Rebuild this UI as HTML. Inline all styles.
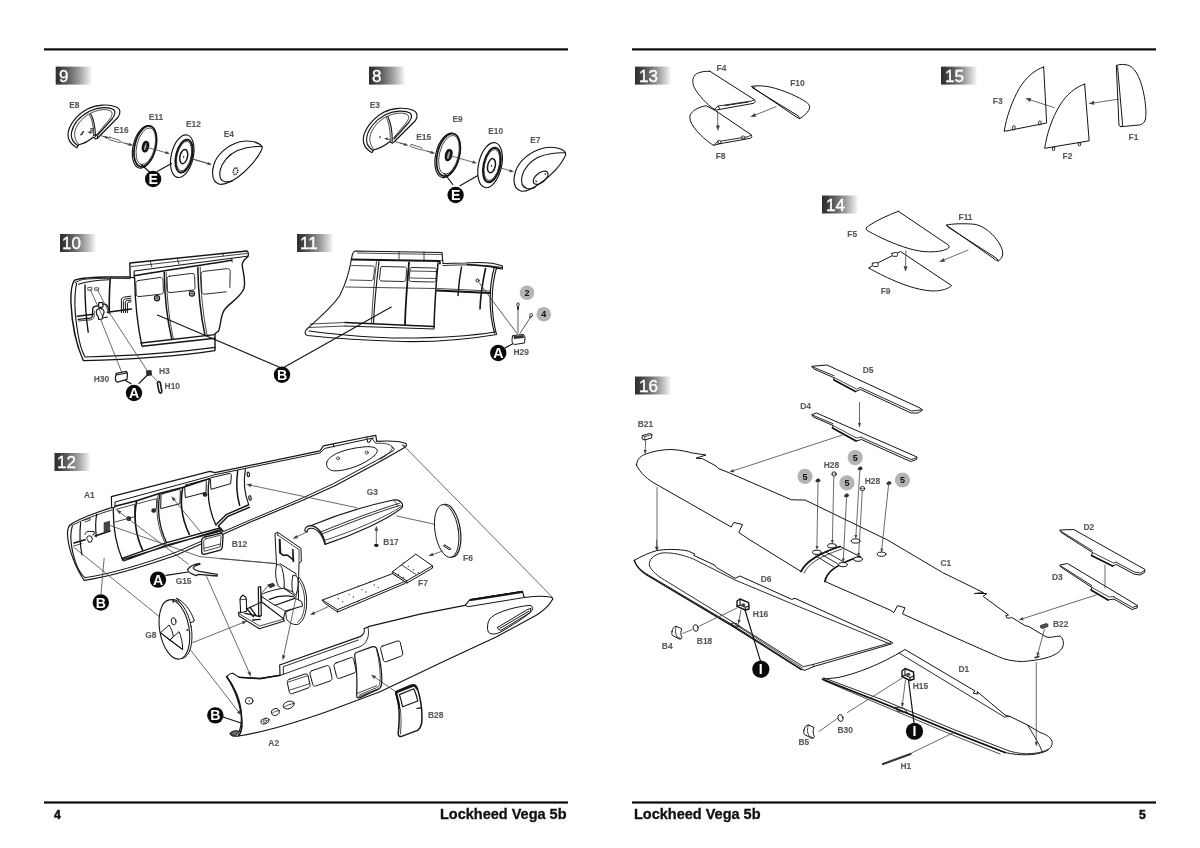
<!DOCTYPE html>
<html lang="en">
<head>
<meta charset="utf-8">
<title>Lockheed Vega 5b - assembly steps 8-16</title>
<style>
html,body{margin:0;padding:0;background:#fff;}
body{width:1200px;height:848px;overflow:hidden;position:relative;font-family:"Liberation Sans",sans-serif;}
svg{position:absolute;left:0;top:0;display:block;filter:grayscale(1);}
.ln{fill:none;stroke:#141414;stroke-width:1.15;stroke-linejoin:round;stroke-linecap:round;}
.tn{fill:none;stroke:#1c1c1c;stroke-width:0.8;stroke-linejoin:round;stroke-linecap:round;}
.wf{fill:#fff;stroke:#141414;stroke-width:1.15;stroke-linejoin:round;stroke-linecap:round;}
.ar{fill:none;stroke:#444;stroke-width:0.8;stroke-linecap:round;}
.ah{fill:#444;stroke:none;}
.lb{font-family:"Liberation Sans",sans-serif;font-weight:bold;fill:#5a5a5a;}
.st{font-family:"Liberation Sans",sans-serif;font-size:17px;fill:#fff;stroke:#fff;stroke-width:0.35;}
.ft{font-family:"Liberation Sans",sans-serif;font-weight:bold;font-size:14.5px;fill:#111;stroke:#111;stroke-width:0.3px;}
.pn{font-family:"Liberation Sans",sans-serif;font-weight:bold;font-size:12.2px;fill:#111;stroke:#111;stroke-width:0.5px;}
path,ellipse,circle,line,polyline,polygon,rect{vector-effect:non-scaling-stroke;}
.lb{font-size:8.4px;stroke:#5a5a5a;stroke-width:0.12px;}
.s8 .lb{font-size:67px;stroke-width:1px;}
.s5 .lb{font-size:42px;stroke-width:0.6px;}
.s4 .lb{font-size:33.6px;stroke-width:0.5px;}
.s6 .lb{font-size:50.4px;stroke-width:0.75px;}
.bl{font-family:"Liberation Sans",sans-serif;font-weight:bold;font-size:13px;fill:#fff;text-anchor:middle;}
.gl{font-family:"Liberation Sans",sans-serif;font-weight:bold;font-size:7px;fill:#111;text-anchor:middle;}
</style>
</head>
<body>
<svg width="1200" height="848" viewBox="0 0 1200 848">
<defs>
<linearGradient id="bg" x1="0" x2="1" y1="0" y2="0">
<stop offset="0" stop-color="#2e2e2e"/>
<stop offset="0.12" stop-color="#3a3a3a"/>
<stop offset="0.38" stop-color="#666666"/>
<stop offset="0.65" stop-color="#a0a0a0"/>
<stop offset="0.88" stop-color="#dcdcdc"/>
<stop offset="1" stop-color="#ffffff"/>
</linearGradient>
</defs>
<g id="frame">
<rect x="44" y="48.3" width="524" height="2.2" fill="#0a0a0a"/>
<rect x="632" y="48.3" width="524" height="2.2" fill="#0a0a0a"/>
<rect x="44" y="801.4" width="524" height="2.2" fill="#0a0a0a"/>
<rect x="632" y="801.4" width="524" height="2.2" fill="#0a0a0a"/>
<text class="pn" x="54" y="818.8">4</text>
<text class="ft" x="566.5" y="818.8" text-anchor="end" textLength="126.5" lengthAdjust="spacingAndGlyphs">Lockheed Vega 5b</text>
<text class="ft" x="634" y="818.8" textLength="126.5" lengthAdjust="spacingAndGlyphs">Lockheed Vega 5b</text>
<text class="pn" x="1139" y="818.8">5</text>
</g>
<g id="badges">
<rect x="55.7" y="66.6" width="36.5" height="18" fill="url(#bg)"/><text class="st" x="59" y="81.6">9</text>
<rect x="369" y="66.6" width="36.5" height="18" fill="url(#bg)"/><text class="st" x="372" y="81.6">8</text>
<rect x="60" y="234" width="36.5" height="18" fill="url(#bg)"/><text class="st" x="62" y="249">10</text>
<rect x="297" y="234" width="36.5" height="18" fill="url(#bg)"/><text class="st" x="300" y="249">11</text>
<rect x="54.5" y="453" width="36.5" height="18" fill="url(#bg)"/><text class="st" x="57" y="468">12</text>
<rect x="635" y="66.6" width="36.5" height="18" fill="url(#bg)"/><text class="st" x="639" y="81.6">13</text>
<rect x="941" y="66.6" width="36.5" height="18" fill="url(#bg)"/><text class="st" x="945" y="81.6">15</text>
<rect x="822" y="195.5" width="36.5" height="18" fill="url(#bg)"/><text class="st" x="826" y="210.5">14</text>
<rect x="635" y="376.5" width="36.5" height="18" fill="url(#bg)"/><text class="st" x="639" y="391.5">16</text>
</g>
<g id="step8a" class="s8" transform="translate(355,95) scale(0.125)">
<!-- E3 half cowl -->
<path class="wf" d="M135,462 C98,440 62,400 66,348 C74,280 132,196 226,140 C300,102 400,96 464,122 C502,138 504,170 484,204 L312,376 L298,386 L280,372 C250,396 200,428 152,438 Z"/>
<path class="ln" d="M144,444 C108,420 86,380 94,338 C106,270 164,200 246,156 C316,124 400,120 440,144 C460,160 452,190 430,220 L312,352"/>
<path class="tn" d="M152,436 C120,400 112,358 124,316 C142,258 194,200 258,170 C326,140 390,138 420,158 C436,174 428,198 410,222 L304,348"/>
<path class="ln" d="M262,172 C284,214 298,290 298,370"/>
<path class="tn" d="M250,178 C272,220 284,292 282,364"/>
<ellipse cx="200" cy="336" rx="5" ry="11" transform="rotate(20 200 336)" fill="#333"/>
<line class="ar" x1="300" y1="364" x2="253.5" y2="350.3"/><polygon class="ah" points="232,344 266.1,341.5 259.3,364.5"/>
<!-- E15 rod -->
<path class="ar" d="M322,372 L400,396 M536,438 L620,462"/>
<line class="ar" x1="360" y1="384" x2="403.8" y2="396.9"/><polygon class="ah" points="428,404 389.9,406.1 397.1,381.6"/>
<line class="ar" x1="580" y1="450" x2="617.8" y2="461"/><polygon class="ah" points="642,468 603.9,470.3 611,445.7"/>
<path class="wf" d="M452,396 L530,420 C538,424 534,440 524,438 L446,414 C438,410 442,394 452,396 Z" style="stroke:#444;stroke-width:0.8"/>
<!-- E9 -->
<g transform="rotate(14 745 480)">
<ellipse class="wf" cx="741" cy="484" rx="94" ry="182"/>
<ellipse class="ln" cx="747" cy="478" rx="88" ry="174" style="stroke-width:1.7"/>
<ellipse class="tn" cx="751" cy="476" rx="76" ry="158"/>
<ellipse class="ln" cx="749" cy="480" rx="20" ry="40" style="stroke-width:2.6"/>
<ellipse class="tn" cx="751" cy="478" rx="8" ry="18"/>
</g>
<line class="ar" x1="770" y1="488" x2="951.7" y2="539.2"/><polygon class="ah" points="976,546 937.9,548.6 944.8,523.9"/>
<path class="ln" d="M716,628 L782,716 M840,726 L1000,634" style="stroke-width:1.2"/>
<circle cx="805" cy="800" r="65.6" fill="#0a0a0a"/><text class="bl" x="805" y="840.8" style="font-size:113.6px">E</text>
<text class="lb" x="118" y="102.6">E3</text>
<text class="lb" x="490" y="363.6">E15</text>
<text class="lb" x="780" y="213.6">E9</text>
</g>
<g id="step8b" class="s8" transform="translate(440,95) scale(0.125)">
<!-- E10 -->
<g transform="rotate(13 405 560)">
<ellipse class="wf" cx="401" cy="562" rx="92" ry="184"/>
<ellipse class="ln" cx="415" cy="558" rx="66" ry="140" style="stroke-width:2"/>
<ellipse class="tn" cx="415" cy="558" rx="58" ry="126"/>
<ellipse class="ln" cx="413" cy="564" rx="30" ry="58" style="stroke-width:1.5"/>
<ellipse cx="413" cy="566" rx="5" ry="9" fill="#222"/>
</g>
<line class="ar" x1="490" y1="584" x2="568" y2="608.5"/><polygon class="ah" points="592,616 553.8,617.4 561.5,593"/>
<!-- E7 -->
<path class="wf" d="M604,612 C630,530 720,450 830,424 C910,408 980,428 1002,458 C1008,470 1004,488 996,500 C960,570 880,650 800,708 C740,750 690,772 652,770 C612,760 590,724 592,670 C594,650 598,630 604,612 Z"/>
<path class="ln" d="M1002,462 C940,460 870,466 800,492 C726,522 670,590 656,650 C646,700 660,738 696,748 C716,752 740,748 760,740"/>
<g transform="rotate(-38 805 662)"><ellipse class="ln" cx="805" cy="662" rx="70" ry="38"/>
<ellipse cx="760" cy="662" rx="6" ry="8" fill="#333"/><ellipse cx="852" cy="662" rx="6" ry="8" fill="#333"/></g>
<text class="lb" x="386" y="313.6">E10</text>
<text class="lb" x="722" y="381.6">E7</text>
</g>
<g id="step9a" class="s8" transform="translate(60,95) scale(0.125)">
<!-- E8 half cowl -->
<path class="wf" d="M135,422 C95,400 60,360 64,308 C72,240 130,160 220,112 C290,76 390,70 450,96 C486,112 486,142 466,176 L300,346 L286,352 L266,336 C240,360 190,390 150,398 Z"/>
<path class="ln" d="M142,404 C105,380 84,340 92,300 C104,236 160,170 240,128 C310,96 390,92 428,116 C446,132 440,160 418,190 L300,322"/>
<path class="tn" d="M150,396 C118,360 110,320 122,280 C140,226 190,170 252,142 C320,112 380,110 408,130 C424,146 416,168 398,192 L292,318"/>
<path class="ln" d="M246,152 C268,190 282,260 284,332"/>
<path class="tn" d="M236,158 C258,196 270,262 270,326"/>
<path class="ln" d="M266,322 L290,318 L300,332 L300,346"/>
<path class="ln" d="M166,318 l14,-8 M178,300 l10,-6" style="stroke-width:1.4"/>
<rect class="tn" x="250" y="268" width="14" height="20"/>
<line class="ar" x1="262" y1="302" x2="240.2" y2="299"/><polygon class="ah" points="218,296 251.3,288.4 248.1,312.2"/>
<!-- E16 rod -->
<path class="ar" d="M330,326 L392,346 M478,374 L560,398"/>
<line class="ar" x1="392" y1="346" x2="367.3" y2="337.9"/><polygon class="ah" points="346,331 380.1,329.5 372.7,352.3"/>
<line class="ar" x1="520" y1="386" x2="561.7" y2="397.4"/><polygon class="ah" points="586,404 547.9,406.9 554.6,382.2"/>
<path class="wf" d="M398,338 L476,362 C484,366 480,382 470,380 L392,356 C384,352 388,336 398,338 Z" style="stroke:#444;stroke-width:0.8"/>
<!-- E11 -->
<g transform="rotate(14 680 412)">
<ellipse class="wf" cx="676" cy="416" rx="90" ry="174"/>
<ellipse class="ln" cx="682" cy="410" rx="84" ry="166" style="stroke-width:1.7"/>
<ellipse class="tn" cx="686" cy="408" rx="72" ry="150"/>
<ellipse class="ln" cx="684" cy="412" rx="19" ry="38" style="stroke-width:2.6"/>
<ellipse class="tn" cx="686" cy="410" rx="8" ry="18"/>
</g>
<line class="ar" x1="700" y1="420" x2="855.7" y2="463.3"/><polygon class="ah" points="880,470 841.9,472.7 848.7,448"/>
<!-- E12 -->
<g transform="rotate(13 980 490)">
<ellipse class="wf" cx="978" cy="490" rx="88" ry="174"/>
<ellipse class="ln" cx="992" cy="486" rx="64" ry="134" style="stroke-width:2"/>
<ellipse class="tn" cx="992" cy="486" rx="56" ry="120"/>
<ellipse class="ln" cx="990" cy="490" rx="30" ry="58" style="stroke-width:1.5"/>
<ellipse cx="990" cy="492" rx="5" ry="9" fill="#222"/>
</g>
<path class="ar" d="M1060,512 L1200,552"/>
<!-- E ball -->
<path class="ln" d="M650,556 L716,616 M780,610 L892,548" style="stroke-width:1.2"/>
<circle cx="745" cy="672" r="65.6" fill="#0a0a0a"/><text class="bl" x="745" y="712.8" style="font-size:113.6px">E</text>
<text class="lb" x="73" y="102.6">E8</text>
<text class="lb" x="430" y="301.6">E16</text>
<text class="lb" x="710" y="197.6">E11</text>
<text class="lb" x="1008" y="253.6">E12</text>
</g>
<g id="step9b" class="s8" transform="translate(160,95) scale(0.125)">
<line class="ar" x1="265" y1="514" x2="391.8" y2="551"/><polygon class="ah" points="416,558 377.9,560.2 385,535.6"/>
<path class="wf" d="M430,560 C450,480 540,400 640,374 C720,356 790,380 814,408 C820,420 816,436 808,448 C780,510 700,600 620,660 C560,700 510,718 476,714 C440,704 420,670 420,620 C420,600 424,580 430,560 Z"/>
<path class="ln" d="M814,412 C760,410 690,416 620,444 C550,474 496,540 482,600 C472,650 486,686 520,694 C540,698 560,694 580,686"/>
<ellipse cx="604" cy="610" rx="17" ry="28" transform="rotate(14 604 610)" fill="none" stroke="#222" stroke-width="1.6" stroke-dasharray="1.3 0.9"/>
<text class="lb" x="510" y="337.6">E4</text>
</g>
<g id="step10" class="s5" transform="translate(55,235) scale(0.2)">
<!-- fuselage body -->
<path class="wf" d="M96,228 C110,218 180,212 250,210 L376,210 L374,140 L960,80 C968,86 968,100 964,108 C950,120 936,130 936,150 C940,190 956,230 944,270 C920,320 870,340 846,376 C826,410 830,450 818,480 L800,494 L800,578 C640,602 400,622 142,628 C110,560 84,450 80,340 C78,290 82,250 96,228 Z" style="stroke-width:1.4"/>
<path class="ln" d="M108,242 C96,300 98,400 116,500 C124,550 136,584 150,610 C400,604 640,584 800,562"/>
<path class="ln" d="M100,238 L132,224 C180,216 250,216 376,218" style="stroke-width:0.9"/>
<path class="ln" d="M118,246 C160,232 220,226 270,224"/>
<!-- roof -->
<path class="ln" d="M376,212 L396,214 L396,180 L960,106"/>
<path class="ln" d="M396,204 C560,176 740,150 884,126" style="stroke-width:1.5"/>
<path class="tn" d="M476,132 L484,160 M612,118 L620,146 M838,90 L842,104 M884,118 L886,136"/>
<path class="ln" d="M380,158 L962,92" style="stroke-width:0.8"/>
<!-- cabin walls -->
<path class="ln" d="M398,214 C400,320 412,450 434,552" style="stroke-width:1.4"/>
<path class="ln" d="M430,540 L798,498 M436,556 L800,516" style="stroke-width:1.4"/>
<path class="ln" d="M546,186 C548,300 560,420 584,522" style="stroke-width:1.5"/>
<path class="tn" d="M556,186 C558,300 570,420 592,520"/>
<path class="ln" d="M714,162 C716,280 728,400 750,500" style="stroke-width:1.5"/>
<path class="tn" d="M726,160 C728,280 740,400 760,498"/>
<!-- windows -->
<path class="ln" d="M416,228 L526,212 C536,212 540,218 540,226 L542,282 C542,290 538,294 528,296 L420,308 C410,308 406,302 406,294 L404,242 C404,234 408,230 416,228 Z" style="stroke-width:0.9"/>
<path class="ln" d="M572,206 L684,192 C694,192 698,198 698,206 L700,262 C700,270 696,274 686,276 L576,288 C566,288 562,282 562,274 L560,220 C560,212 564,208 572,206 Z" style="stroke-width:0.9"/>
<path class="ln" d="M874,262 L876,182 C876,174 872,168 862,168 L742,182 C734,184 730,188 730,196 L734,282 C734,290 738,296 748,296 L856,284" style="stroke-width:0.9"/>
<circle class="ln" cx="510" cy="316" r="13"/><path class="tn" d="M498,317 L522,315 M510,304 L511,328"/>
<circle class="ln" cx="685" cy="293" r="13"/><path class="tn" d="M673,294 L697,292 M685,281 L686,305"/>
<!-- nose interior -->
<path class="ln" d="M276,218 C272,280 270,340 272,392" style="stroke-width:1.6"/>
<path class="ln" d="M150,250 C150,330 156,420 166,486" style="stroke-width:1.4"/>
<path class="ln" d="M112,406 L190,396 M262,386 L382,370" style="stroke-width:1.6"/>
<path class="ln" d="M116,422 L176,416 C186,414 188,408 188,398 L188,372 C188,362 194,358 204,356 L218,354" style="stroke-width:1.2"/>
<path class="tn" d="M116,430 L180,424 C192,422 196,414 196,404 L196,380"/>
<rect class="ln" x="218" y="338" width="22" height="24" rx="4"/>
<path class="ln" d="M240,346 C258,344 266,354 266,370 L266,386"/>
<path class="wf" d="M206,384 C206,372 218,366 230,368 C242,370 248,380 244,392 L238,406 L236,420 L218,422 L216,408 C210,402 206,394 206,384 Z"/>
<path class="ln" d="M240,414 L262,410"/>
<path class="ln" d="M332,388 L332,326 C332,316 338,312 348,310 L380,306 M342,388 L342,332 C342,324 346,320 354,320 L380,316 M352,388 L352,338 C352,330 356,328 362,328 L380,326 M362,388 L362,344 C362,338 366,336 370,336 L380,334" style="stroke-width:1"/>
<rect class="ln" x="166" y="262" width="18" height="14" style="stroke:#444;stroke-width:0.9"/>
<rect class="ln" x="200" y="264" width="18" height="12" style="stroke:#444;stroke-width:0.9"/>
<!-- leaders -->
<path class="ar" d="M176,272 L236,404 M228,422 L332,682 M212,274 L270,386 L462,680" />
<path class="ln" d="M512,400 L1120,660" style="stroke-width:1.1"/>
<path class="ln" d="M334,716 L380,744 M420,742 L462,700" style="stroke-width:1.2"/>
<!-- H30 -->
<path class="wf" d="M306,692 L356,682 C362,684 362,690 362,696 L360,722 L312,736 C304,734 302,726 302,716 Z" style="stroke:#222;stroke-width:1.3"/>
<path class="ln" d="M306,700 L360,690" style="stroke-width:1.2"/>
<!-- H3 -->
<rect x="456" y="676" width="28" height="28" rx="5" fill="#2a2a2a" transform="rotate(-8 470 690)"/>
<path class="ar" d="M484,702 L512,732"/>
<!-- H10 -->
<path class="ln" d="M512,740 C514,730 524,730 527,740 L534,780 C534,792 524,794 520,784 Z" style="stroke:#1a1a1a;stroke-width:1.6"/>
<circle cx="395" cy="790" r="41" fill="#0a0a0a"/><text class="bl" x="395" y="815.5" style="font-size:71px">A</text>
<circle cx="1135" cy="699" r="41" fill="#0a0a0a"/><text class="bl" x="1135" y="724.5" style="font-size:71px">B</text>
<text class="lb" x="194" y="737">H30</text>
<text class="lb" x="520" y="694">H3</text>
<text class="lb" x="548" y="771">H10</text>
</g>
<g id="step11" class="s4" transform="translate(290,235) scale(0.25)">
<!-- body -->
<path class="wf" d="M262,64 L608,70 L612,114 L700,112 C760,108 820,112 850,124 L850,136 L826,132 C806,200 800,300 826,398 C700,420 560,428 450,426 C300,422 160,412 70,402 C58,398 58,388 66,378 C100,344 170,290 200,240 C226,190 240,130 246,96 C248,80 252,66 262,64 Z" style="stroke-width:1.1"/>
<path class="ln" d="M76,384 C200,400 330,412 450,412 C580,412 720,404 820,388"/>
<path class="ln" d="M816,134 C798,200 792,300 818,392"/>
<path class="ln" d="M612,122 C700,118 780,118 848,130" style="stroke-width:0.9"/>
<path class="ln" d="M710,118 L800,126 L840,134" style="stroke-width:1.6"/>
<!-- roof -->
<path class="ln" d="M246,98 L598,104 L600,114" style="stroke-width:1.8"/>
<path class="tn" d="M270,72 L608,78 M436,66 L436,96 M536,68 L536,98 M598,104 L610,100"/>
<!-- cabin -->
<path class="ln" d="M592,112 C584,200 578,290 576,372" style="stroke-width:1.5"/>
<path class="ln" d="M356,106 C346,190 338,270 334,350"/>
<path class="tn" d="M346,106 C336,190 330,270 326,350"/>
<path class="ln" d="M476,110 C468,200 462,280 460,358" style="stroke-width:1.8"/>
<path class="tn" d="M82,356 L220,350 M76,370 L220,364"/>
<path class="ln" d="M220,350 L576,366" style="stroke-width:1.5"/>
<path class="ln" d="M220,364 L576,376" style="stroke-width:1"/>
<path class="tn" d="M222,208 L580,214"/>
<path class="tn" d="M246,122 L330,124 C336,124 338,128 338,134 L334,172 C334,178 330,182 324,182 L240,180"/>
<path class="ln" d="M370,126 L458,128 C464,128 466,132 466,138 L464,176 C464,182 460,186 454,186 L368,184 C362,184 358,180 358,174 L362,136 C362,130 364,126 370,126 Z" style="stroke-width:0.9"/>
<path class="ln" d="M488,130 L578,132 C584,132 586,136 586,142 L584,178 C584,184 580,188 574,188 L486,186 C480,186 476,182 476,176 L480,140 C480,134 482,130 488,130 Z" style="stroke-width:0.9"/>
<path class="tn" d="M482,144 L584,146 M480,172 L582,174"/>
<!-- nose inside -->
<path class="ln" d="M588,222 L800,232" style="stroke-width:1.8"/>
<path class="tn" d="M590,214 L800,224"/>
<path class="ln" d="M686,128 C678,170 674,206 672,242" style="stroke-width:1.4"/>
<path class="ln" d="M782,134 C770,190 762,244 760,296" style="stroke-width:1.6"/>
<circle class="ln" cx="750" cy="182" r="6" style="stroke-width:1"/>
<!-- leaders -->
<path class="ar" d="M756,190 L908,394 M912,300 L912,392 M960,332 L920,394" style="stroke:#333"/>
<path class="ln" d="M405,288 L-20,527" style="stroke-width:1.1"/>
<path class="ln" d="M860,452 L900,430" style="stroke-width:1.2"/>
<!-- screws -->
<path class="ln" d="M908,274 C908,270 916,270 916,274 L916,282 L914,284 L914,298 L910,298 L910,284 L908,282 Z" style="stroke-width:0.9"/>
<path class="ln" d="M960,316 C962,312 970,314 970,318 L968,326 L964,326 L962,332 L958,330 L960,324 Z" style="stroke-width:0.9"/>
<!-- H29 -->
<path class="wf" d="M892,402 L932,398 C938,400 940,406 940,412 L938,432 L898,438 C890,436 888,430 888,420 Z" style="stroke-width:1"/>
<path d="M894,404 L934,400 L936,412 L896,416 Z" fill="#333"/>
<circle cx="948" cy="231" r="29.2" fill="#b4b4b4"/><text class="gl" x="948" y="243.8" style="font-size:36px">2</text>
<circle cx="1015" cy="317" r="29.2" fill="#b4b4b4"/><text class="gl" x="1015" y="329.8" style="font-size:36px">4</text>
<circle cx="833" cy="472" r="32.8" fill="#0a0a0a"/><text class="bl" x="833" y="492.4" style="font-size:56.8px">A</text>
<text class="lb" x="894" y="481.8">H29</text>
</g>
<g id="step12-A1" class="s6" transform="translate(60,460) scale(0.16667)">
<!-- fuselage outline -->
<path class="wf" d="M60,390 C100,360 220,312 310,286 L308,220 L900,68 L930,76 L1560,-55 L1580,-85 L1840,-138 L1895,-148 L1900,-112 C1960,-116 2040,-112 2072,-100 C2084,-92 2080,-80 2060,-70 L1910,15 L1650,155 L1460,240 L1160,365 L900,480 L700,570 C500,640 300,700 145,722 C100,660 50,540 45,450 C44,420 50,400 60,390 Z"/>
<path class="ln" d="M150,706 C300,685 500,625 700,552 L980,430 L1160,352 L1460,226 L1640,142 L1900,2 L2000,-56 C2010,-64 2004,-74 1990,-78" style="stroke-width:1"/>
<path class="ln" d="M74,398 C60,440 64,520 92,610 C106,650 124,686 150,706"/>
<path class="ln" d="M70,394 C120,366 220,326 312,300" style="stroke-width:0.9"/>
<!-- roof rail -->
<path class="ln" d="M312,286 L330,284 L330,252 L890,100 L930,88 L1560,-42 L1590,-70 L1840,-124 L1880,-132 M1640,-94 L1644,-78 M1840,-138 L1846,-106 L1860,-108 L1870,-132 L1895,-100" style="stroke-width:1"/>
<path class="ln" d="M330,278 L460,245 L600,200 L735,165 L895,112" style="stroke-width:1.6"/>
<!-- tailplane slot -->
<path class="ln" d="M1600,15 C1610,-30 1710,-70 1840,-80 C1900,-82 1920,-60 1890,-30 C1840,20 1720,70 1640,65 C1610,60 1596,40 1600,15 Z" style="stroke-width:1"/>
<circle class="tn" cx="1668" cy="-10" r="9"/><circle class="tn" cx="1840" cy="-45" r="9"/>
<path class="tn" d="M1900,-100 C1960,-104 1990,-90 1996,-76 C1990,-50 1950,-20 1920,-4"/>
<!-- cabin -->
<path class="ln" d="M320,290 C318,400 340,520 376,602" style="stroke-width:1.3"/>
<path class="ln" d="M372,590 L640,496 L960,408 M382,606 L650,508 L976,424 M376,598 L968,416" style="stroke-width:1.3"/>
<path class="ln" d="M460,246 C440,340 452,450 496,540" style="stroke-width:1.7"/>
<path class="ln" d="M600,200 C580,300 596,410 640,496" style="stroke-width:1.3"/>
<path class="tn" d="M590,204 C570,300 586,410 630,498"/>
<path class="ln" d="M736,166 C718,260 734,360 776,446" style="stroke-width:1.6"/>
<path class="ln" d="M896,112 C880,200 894,300 936,392" style="stroke-width:1.3"/>
<!-- windows -->
<path class="tn" d="M336,296 L446,266 L450,340 L330,372"/>
<path class="tn" d="M466,262 L578,232 L580,290 L560,300"/>
<path class="ln" d="M612,204 L712,176 C720,176 722,182 722,190 L720,262 L604,292 L606,214 C606,208 608,206 612,204 Z" style="stroke-width:1"/>
<path class="ln" d="M756,150 L868,120 C876,120 878,126 878,134 L876,194 L752,226 L748,162 C748,156 750,152 756,150 Z" style="stroke-width:1"/>
<path class="ln" d="M908,106 L1018,80 C1026,80 1028,86 1028,94 L1024,142 L906,176 L902,116 C902,110 904,108 908,106 Z" style="stroke-width:1"/>
<circle cx="413" cy="352" r="10" fill="#999" stroke="#222" stroke-width="1.4"/><path class="tn" d="M404,354 L422,350 M412,343 L414,361"/>
<circle cx="562" cy="303" r="10" fill="#999" stroke="#222" stroke-width="1.4"/><path class="tn" d="M553,305 L571,301 M561,294 L563,312"/>
<circle cx="870" cy="207" r="10" fill="#999" stroke="#222" stroke-width="1.4"/><path class="tn" d="M861,209 L879,205 M869,198 L871,216"/>
<!-- rear cabin -->
<path class="ln" d="M1066,66 C1056,140 1060,210 1078,272" style="stroke-width:1.5"/>
<path class="ln" d="M1112,56 C1100,130 1106,200 1132,268"/>
<path class="ln" d="M1130,270 L1000,326 L940,384 M1136,284 L1008,338 L950,396 L976,424" style="stroke-width:1.5"/>
<ellipse class="ln" cx="1130" cy="86" rx="7" ry="14" transform="rotate(-10 1130 86)"/>
<ellipse class="ln" cx="1140" cy="228" rx="7" ry="14" transform="rotate(-10 1140 228)"/>
<!-- nose interior -->
<path class="ln" d="M220,326 C212,370 212,410 218,460" style="stroke-width:1.2"/>
<path class="ln" d="M124,376 C116,440 120,510 132,570" style="stroke-width:1.2"/>
<path class="ln" d="M84,498 L150,478 M210,456 L300,426" style="stroke-width:1.6"/>
<path class="tn" d="M80,516 L130,502"/>
<rect x="262" y="372" width="38" height="60" fill="#444" transform="skewY(-14) translate(0 68)"/>
<path class="ln" d="M150,446 C150,432 170,424 186,430 L204,428 L206,444 L196,450 M160,468 C160,456 176,452 188,458 L194,474 L188,492 L172,494 L166,480 Z" style="stroke-width:1"/>
<path class="tn" d="M140,362 L180,350 L182,360 L150,372"/>
<!-- leaders -->
<line class="ar" x1="770" y1="625" x2="354.7" y2="310.7"/><polygon class="ah" points="338,298 368.4,307.5 355.4,324.7"/>
<path class="ar" d="M290,390 L840,580 L1300,622"/>
<line class="ar" x1="868" y1="462" x2="681.3" y2="234.2"/><polygon class="ah" points="668,218 695.4,234.4 678.7,248"/>
<!-- B12 -->
<path class="wf" d="M868,462 L962,440 C974,440 978,448 978,458 L974,524 C972,534 966,540 956,542 L866,566 C854,566 850,560 850,550 L850,484 C850,472 856,466 868,462 Z" style="stroke-width:1.3"/>
<path class="tn" d="M872,474 L958,452 C964,452 966,456 966,462 L962,520 L864,548 L862,488 C862,480 866,476 872,474 Z M864,530 L962,504"/>
<!-- G15 -->
<path class="wf" d="M836,620 C800,626 776,640 766,658 C764,672 790,684 816,694 L832,686 L942,696 L944,686 L836,668 C812,662 796,652 800,644 C810,634 824,628 840,626 Z" style="stroke:#222;stroke-width:1.3"/>
<path class="ln" d="M636,692 L768,672" style="stroke-width:1.1"/>
<circle cx="588" cy="718" r="49.2" fill="#0a0a0a"/><text class="bl" x="588" y="748.6" style="font-size:85.2px">A</text>
<text class="lb" x="144" y="229.2">A1</text>
<text class="lb" x="1030" y="523.2">B12</text>
<text class="lb" x="694" y="745.2">G15</text>
<text class="lb" x="1840" y="211.2">G3</text>
<text class="lb" x="1940" y="511.2">B17</text>
</g>
<g id="step12-A2" class="s6" transform="translate(210,640) scale(0.16667)">
<!-- fuselage outline -->
<path class="wf" d="M100,220 C112,206 126,198 138,200 C150,206 162,218 176,224 L300,230 L420,212 L418,150 L900,-20 C920,-30 930,-50 924,-68 L950,-80 L1260,-155 L1530,-208 L1560,-242 L1875,-292 L1885,-255 C1940,-262 2000,-266 2040,-258 C2060,-254 2060,-246 2050,-236 C2030,-200 1990,-170 1960,-150 L1720,-20 L1420,120 L1020,310 L700,430 C500,500 300,556 170,576 C150,580 130,576 120,560 C130,548 150,540 176,548 C200,480 190,380 150,300 C136,270 116,240 100,220 Z"/>
<path class="ln" d="M100,220 C150,290 190,400 192,500 C192,530 186,556 172,574" style="stroke-width:1.6"/>
<path d="M124,560 C134,548 156,544 172,550 C172,562 164,572 150,574 C138,574 128,568 124,560 Z" fill="#666" stroke="#222" stroke-width="0.8"/>
<path class="ln" d="M176,224 L300,232 L420,212" style="stroke-width:1.5"/>
<!-- roof rail -->
<path class="ln" d="M420,212 L440,206 L440,160 L890,0 M440,206 L900,40 C940,20 960,-20 948,-76" style="stroke-width:0.9"/>
<!-- fin rail -->
<path class="ln" d="M1530,-208 L1550,-200 L1885,-255 M1560,-242 L1875,-292" style="stroke-width:1"/>
<path class="ln" d="M1566,-240 L1872,-288" style="stroke-width:2"/>
<!-- tailplane slot -->
<path class="ln" d="M1665,-70 C1664,-100 1672,-124 1690,-138 C1730,-170 1830,-200 1920,-208 C1934,-206 1938,-192 1934,-178 C1900,-140 1800,-80 1740,-46 C1716,-34 1690,-32 1676,-42 C1668,-48 1666,-58 1665,-70 Z" style="stroke-width:1"/>
<path class="ln" d="M1726,-76 L1900,-180 L1926,-190 L1920,-164 L1750,-60 C1736,-56 1724,-64 1726,-76 Z M1740,-70 L1912,-172" style="stroke-width:1"/>
<!-- windows -->
<path class="ln" d="M476,236 L570,204 C580,202 586,206 588,214 L600,268 C602,278 598,284 588,288 L494,322 C484,324 478,320 476,312 L464,256 C462,246 466,240 476,236 Z" style="stroke-width:1"/>
<path class="tn" d="M470,252 L586,214 M480,300 L598,262"/>
<path class="ln" d="M612,184 L700,154 C710,152 716,156 718,164 L732,226 C734,236 730,242 720,246 L634,276 C624,278 618,274 616,266 L600,204 C598,194 602,188 612,184 Z" style="stroke-width:1"/>
<path class="ln" d="M756,138 L844,106 C854,104 860,108 862,116 L876,178 C878,188 874,194 864,198 L778,230 C768,232 762,228 760,220 L744,158 C742,148 746,142 756,138 Z" style="stroke-width:1"/>
<path class="ln" d="M1036,36 L1124,6 C1134,4 1140,8 1142,16 L1156,78 C1158,88 1154,94 1144,98 L1058,130 C1048,132 1042,128 1040,120 L1024,56 C1022,46 1026,40 1036,36 Z" style="stroke-width:1"/>
<!-- door -->
<path class="ln" d="M886,72 L976,40 C990,38 998,44 1002,56 C1024,130 1034,200 1030,260 C1028,280 1020,292 1004,298 L900,346 C888,350 880,346 880,334 C884,250 880,160 868,96 C866,84 874,76 886,72 Z" style="stroke-width:1.2"/>
<path class="tn" d="M1000,60 C1018,130 1024,200 1020,256 C1018,272 1012,280 1000,286 L896,330 M892,340 L1002,296 M884,320 L1000,274"/>
<!-- small features -->
<ellipse class="ln" cx="235" cy="365" rx="23" ry="20" style="stroke-width:1"/><circle cx="236" cy="366" r="5" fill="#333"/>
<ellipse class="ln" cx="472" cy="390" rx="34" ry="22" transform="rotate(-20 472 390)" style="stroke-width:1"/>
<path class="tn" d="M446,402 C460,392 480,384 500,382"/>
<ellipse class="ln" cx="392" cy="432" rx="24" ry="20" transform="rotate(-20 392 432)" style="stroke-width:1"/>
<path class="tn" d="M374,440 C384,430 398,424 412,424"/>
<ellipse class="ln" cx="330" cy="487" rx="26" ry="16" transform="rotate(-20 330 487)" style="stroke-width:1"/>
<ellipse class="tn" cx="330" cy="487" rx="12" ry="7" transform="rotate(-20 330 487)"/>
<!-- B ball lower -->
<path class="ln" d="M78,462 L186,498" style="stroke-width:1.2"/>
<circle cx="32" cy="452" r="49.2" fill="#0a0a0a"/><text class="bl" x="32" y="482.6" style="font-size:85.2px">B</text>
<text class="lb" x="350" y="635.2">A2</text>
</g>
<g id="step12-B28">
<path class="wf" d="M395.6,691.6 L411.5,685 C414.5,684 416.4,685.6 417.4,688.6 C420.4,698 422,708 422,718 C422,724 420.6,728.4 417.6,730.4 L401.6,736.4 C399.6,737 398.4,736 398.2,734 C399.4,722 399.4,712 398.6,706 C398,700 396,696 395.6,691.6 Z" style="stroke-width:1.5"/>
<path class="ln" d="M396.6,692.4 L412.4,686 C414.6,685.4 416,686.6 416.8,688.6" style="stroke-width:2"/>
<path class="ln" d="M396,692 C397,697 399,702 399.4,708" style="stroke-width:2"/>
<path class="ln" d="M399.4,694.6 L413.8,688.8 C416,694 417.2,698 417.8,701 L402.6,706.8 C401.6,702 400.6,698 399.4,694.6 Z" style="stroke-width:1.2"/>
<path class="ln" d="M417,708.4 L421,707.8" style="stroke-width:1.2"/>
<path class="tn" d="M400.4,709 C401.4,718 401.2,726 400.4,734"/>
<line class="ar" x1="395.4" y1="691.5" x2="373.9" y2="676.7"/><polygon class="ah" points="371,674.7 376.1,676.1 374.1,679"/>
<text class="lb" x="428" y="717.7">B28</text>
</g>
<g id="step12-G3" class="s6" transform="translate(220,430) scale(0.16667)">
<!-- G3 roof piece -->
<path class="wf" d="M510,606 C506,588 520,576 544,574 C640,534 840,462 1040,420 C1064,416 1084,426 1094,444 C1098,454 1096,462 1088,470 C1000,540 800,630 630,686 C622,660 612,634 596,616 C578,596 556,588 540,590 C528,592 520,600 524,612 Z"/>
<path class="ln" d="M604,612 C760,548 940,480 1076,440 M612,624 C770,560 950,490 1082,452" style="stroke-width:0.9"/>
<path class="tn" d="M624,664 C800,606 980,530 1090,458 M1040,420 C1052,430 1060,440 1064,452"/>
<path class="ln" d="M544,574 C584,576 620,620 632,686" style="stroke-width:1.3"/>
<line class="ar" x1="522" y1="612" x2="455" y2="643.1"/><polygon class="ah" points="436,652 458.6,629.6 467.8,649.1"/>
<!-- B17 -->
<ellipse cx="938" cy="692" rx="14" ry="10" fill="#111"/>
<line class="ar" x1="938" y1="680" x2="938" y2="595"/><polygon class="ah" points="938,574 948.8,604 927.2,604"/>
<!-- leader from cabin to G3 -->
<line class="ar" x1="820" y1="466" x2="178.5" y2="330.3"/><polygon class="ah" points="158,326 189.6,321.6 185.1,342.8"/>
<path class="ar" d="M1060,516 L1290,566"/>
<!-- long line tail-tip to tail-tip -->
<path class="ar" d="M1106,98 L1995,1004"/>
<path d="M1088,86 L1110,92 L1102,104 Z" fill="#444"/>
</g>
<g id="step12-F6" class="s6" transform="translate(380,490) scale(0.16667)">
<g transform="rotate(-9 405 245)">
<ellipse class="wf" cx="412" cy="245" rx="70" ry="160"/>
<ellipse class="wf" cx="400" cy="245" rx="70" ry="160" style="stroke-width:1"/>
</g>
<path class="ln" d="M388,330 L424,352 L420,360 L384,338 Z" style="stroke-width:1"/>
<line class="ar" x1="376" y1="366" x2="309.8" y2="389.1"/><polygon class="ah" points="290,396 314.8,375.9 321.9,396.3"/>
<text class="lb" x="498" y="427.2">F6</text>
<text class="lb" x="228" y="573.2">F7</text>
</g>
<g id="step12-seat" class="s6" transform="translate(220,520) scale(0.16667)">
<!-- ring -->
<path class="wf" d="M470,340 C500,370 520,430 520,490 C520,560 500,610 468,626 C440,632 410,616 398,590 L394,552 L470,520 Z" style="stroke-width:1"/>
<path class="tn" d="M462,350 C490,380 508,430 508,490 C508,550 492,596 466,612"/>
<!-- bulkhead -->
<path class="wf" d="M332,80 L346,74 L486,170 L488,250 L474,258 L472,340 L456,440 L386,410 L340,270 Z" style="stroke-width:1"/>
<path class="tn" d="M346,90 L474,178 L474,256 M346,74 L346,92"/>
<path d="M352,112 L364,114 L368,196 L360,204 L354,198 Z M432,172 L442,176 L446,250 L438,254 L434,246 Z" fill="#222"/><path class="ln" d="M364,200 L380,212 L404,210 L436,236" style="stroke-width:1.6"/>
<!-- seat back pads -->
<path class="wf" d="M340,270 C350,262 366,270 372,290 C384,330 388,380 384,410 C376,416 360,410 350,396 C334,360 328,310 340,270 Z" style="stroke-width:1"/>
<path class="ln" d="M360,262 L456,322 L456,440" style="stroke-width:1"/>
<path class="wf" d="M438,334 C450,326 466,340 468,360 C470,390 466,420 458,444 C448,452 438,440 434,420 C430,390 430,360 438,334 Z" style="stroke-width:1"/>
<!-- seat -->
<path class="wf" d="M250,446 C280,430 340,414 382,410 L452,456 C452,464 448,470 440,472 L332,512 C300,500 270,482 250,462 Z" style="stroke-width:1"/>
<path class="ln" d="M296,476 C330,462 390,450 440,460" style="stroke-width:1.4"/>
<path class="wf" d="M250,462 L250,492 L380,592 L392,546 L496,516 L490,490 L452,470 L332,512 Z" style="stroke-width:1"/>
<path class="tn" d="M332,512 L392,546"/>
<!-- floor -->
<path class="wf" d="M110,556 L250,492 L380,592 L386,606 L236,652 L114,576 Z" style="stroke-width:1.1"/>
<path class="tn" d="M114,562 L238,636 L384,594"/>
<!-- bottle -->
<path class="wf" d="M120,476 C122,464 130,456 138,450 C148,456 156,464 158,476 L160,548 L124,556 Z" style="stroke-width:1.1"/>
<path class="tn" d="M120,478 L158,476"/>
<!-- stick & pedals -->
<path class="ln" d="M230,402 L244,400 L248,574 L232,576 Z" style="stroke-width:1.2"/>
<path class="ln" d="M160,530 L200,580 M180,524 L216,572 M150,560 L240,580 M196,600 L240,596" style="stroke-width:1.4"/>
<path d="M282,388 L318,376 L334,394 L300,410 Z" fill="#333"/>
<path class="tn" d="M248,440 L284,400"/>
<!-- F7 floor -->
<path class="wf" d="M615,480 L1035,322 L1110,368 L1112,380 L706,552 L626,498 Z" style="stroke-width:1"/>
<path class="ln" d="M615,480 L705,538 L1110,368 M705,538 L706,552" style="stroke-width:1"/>
<path class="wf" d="M1035,310 L1175,205 L1275,275 L1276,288 L1122,378 L1036,322 Z" style="stroke-width:1"/>
<path class="ln" d="M1035,310 L1120,365 L1275,275 M1120,365 L1122,378" style="stroke-width:1"/>
<path class="tn" d="M1090,270 L1175,326"/>
<g fill="#333">
<circle cx="710" cy="472" r="4"/><circle cx="736" cy="490" r="4"/><circle cx="776" cy="446" r="4"/><circle cx="800" cy="462" r="4"/>
<circle cx="852" cy="418" r="4"/><circle cx="876" cy="432" r="4"/><circle cx="926" cy="390" r="4"/><circle cx="950" cy="404" r="4"/>
<circle cx="830" cy="490" r="4"/><circle cx="912" cy="452" r="4"/><circle cx="766" cy="514" r="4"/><circle cx="830" cy="396" r="4"/><circle cx="900" cy="370" r="4"/>
<circle cx="1100" cy="258" r="4"/><circle cx="1130" cy="278" r="4"/><circle cx="1160" cy="298" r="4"/><circle cx="1190" cy="316" r="4"/>
<circle cx="1070" cy="326" r="4"/><circle cx="1100" cy="344" r="4"/>
</g>
<!-- arrows -->
<line class="ar" x1="650" y1="520" x2="559.1" y2="561.3"/><polygon class="ah" points="540,570 562.8,547.8 571.8,567.4"/>
<line class="ar" x1="470" y1="400" x2="380.4" y2="821.5"/><polygon class="ah" points="376,842 371.7,810.4 392.8,814.9"/>
<path class="ar" d="M0,232 L340,262"/>
</g>
<g id="step12-G8" class="s6" transform="translate(60,590) scale(0.16667)">
<!-- leaders -->
<path class="ar" d="M85,-255 L596,160 M265,-190 L246,24"/>
<line class="ar" x1="796" y1="316" x2="1102.5" y2="193.8"/><polygon class="ah" points="1122,186 1098.1,207.1 1090.1,187.1"/>
<line class="ar" x1="780" y1="356" x2="1075.1" y2="735.4"/><polygon class="ah" points="1088,752 1061.1,734.9 1078.1,721.7"/>
<line class="ar" x1="880" y1="-80" x2="1137.5" y2="500.8"/><polygon class="ah" points="1146,520 1124,497 1143.7,488.2"/>
<!-- G8 disc -->
<path class="wf" d="M700,50 C740,66 786,120 806,186 L766,206 L740,100 Z" style="stroke-width:1"/>
<g transform="rotate(-10 690 235)">
<ellipse class="wf" cx="700" cy="236" rx="88" ry="180" style="stroke-width:1"/>
<ellipse class="wf" cx="686" cy="236" rx="88" ry="180" style="stroke-width:1.1"/>
</g>
<ellipse class="ln" cx="682" cy="188" rx="14" ry="22" transform="rotate(-10 682 188)" style="stroke-width:1"/>
<path class="ln" d="M604,256 L654,210 C668,230 676,254 680,278 L660,300 Z M660,300 L714,250 C728,280 736,320 736,356 Z M604,256 L736,356" style="stroke-width:1"/>
<circle cx="680" cy="70" r="6" fill="#333"/><circle cx="764" cy="240" r="6" fill="#333"/>
<circle cx="245" cy="75" r="49.2" fill="#0a0a0a"/><text class="bl" x="245" y="105.6" style="font-size:85.2px">B</text>
<text class="lb" x="512" y="287.2">G8</text>
</g>
<g id="step13" class="s6" transform="translate(670,55) scale(0.16667)">
<!-- F8 -->
<path class="wf" d="M215,305 C170,312 130,334 120,364 C112,400 150,450 200,496 C226,518 246,534 262,542 L300,532 L482,500 C492,496 494,488 486,478 L276,336 Z" style="stroke-width:1"/>
<path class="ln" d="M262,542 L284,520 L470,490 L486,480 M284,520 L300,532" style="stroke-width:0.9"/>
<path class="wf" d="M288,514 C294,510 302,512 304,518 L306,530 L292,532 Z M432,488 C438,484 446,486 448,492 L450,502 L436,504 Z" style="stroke-width:0.9"/>
<!-- F4 -->
<path class="wf" d="M240,98 L506,268 C514,276 512,284 502,290 L278,330 L266,326 C220,296 170,240 146,196 C130,160 134,130 160,112 C184,100 212,96 240,98 Z" style="stroke-width:1"/>
<path class="ln" d="M266,326 L290,306 L490,276 L506,268 M290,306 L298,326 M330,304 L470,282" style="stroke-width:0.9"/>
<!-- F10 -->
<path class="wf" d="M490,188 C520,182 560,184 600,192 C680,210 770,250 820,284 C838,298 842,314 832,332 C820,352 800,368 778,382 L762,374 Z" style="stroke-width:1"/>
<path class="ln" d="M490,188 L500,200 L770,366 L778,382 M500,200 L510,190" style="stroke-width:1"/>
<line class="ar" x1="285" y1="338" x2="287.4" y2="432.9"/><polygon class="ah" points="288,456 275.2,423.3 299.2,422.7"/>
<line class="ar" x1="636" y1="310" x2="503.4" y2="363.4"/><polygon class="ah" points="482,372 508.1,348.5 517.1,370.8"/>
<text class="lb" x="279" y="94.2">F4</text>
<text class="lb" x="721" y="188.2">F10</text>
<text class="lb" x="274" y="621.2">F8</text>
</g>
<g id="step14" class="s6" transform="translate(815,185) scale(0.16667)">
<!-- F9 -->
<path class="wf" d="M515,400 L820,604 C800,622 760,636 710,636 C640,634 560,610 480,576 C420,550 360,520 322,498 L356,478 L480,416 Z" style="stroke-width:1"/>
<path class="wf" d="M344,470 L372,464 C380,468 382,482 376,490 L350,488 C344,484 342,476 344,470 Z M462,410 L488,404 C496,408 498,420 492,428 L468,428 C462,424 460,416 462,410 Z" style="stroke-width:0.9"/>
<!-- F5 -->
<path class="wf" d="M500,158 L800,360 C808,368 806,376 796,382 C770,396 720,404 660,400 C580,394 480,356 400,318 C360,298 326,282 310,270 C304,262 308,254 320,246 C370,212 440,180 500,158 Z" style="stroke-width:1"/>
<!-- F11 -->
<path class="wf" d="M790,240 C820,232 900,230 960,236 C1000,244 1040,270 1076,310 C1110,350 1130,390 1126,420 C1122,436 1112,448 1100,456 L1086,450 Z" style="stroke-width:1"/>
<path class="ln" d="M790,240 L800,254 L1090,440 L1100,456" style="stroke-width:1"/>
<line class="ar" x1="545" y1="394" x2="543.4" y2="496.9"/><polygon class="ah" points="543,520 531.5,486.8 555.5,487.2"/>
<line class="ar" x1="918" y1="390" x2="766.3" y2="453.1"/><polygon class="ah" points="745,462 770.9,438.2 780.1,460.4"/>
<text class="lb" x="194" y="310.2">F5</text>
<text class="lb" x="861" y="208.2">F11</text>
<text class="lb" x="394" y="651.2">F9</text>
</g>
<g id="step15" class="s6" transform="translate(980,55) scale(0.16667)">
<!-- F3 -->
<path class="wf" d="M382,72 L400,408 L145,458 C160,370 190,280 236,200 C276,134 330,88 382,72 Z" style="stroke-width:1"/>
<path class="wf" d="M196,448 L196,428 C200,422 208,422 210,428 L210,445 Z M352,418 L352,400 C356,394 364,394 366,400 L366,415 Z" style="stroke-width:0.9"/>
<!-- F2 -->
<path class="wf" d="M434,556 L434,570 C438,574 446,574 448,570 L448,554 Z M590,530 L590,542 C594,546 602,546 604,542 L604,528 Z" style="stroke-width:0.9"/>
<path class="wf" d="M628,175 L655,515 L388,560 C400,480 430,380 480,300 C520,236 576,190 628,175 Z" style="stroke-width:1"/>
<!-- F1 -->
<path class="wf" d="M820,62 C840,54 870,54 896,64 C940,84 970,160 986,250 C996,310 998,360 992,390 C984,408 972,418 956,420 L846,430 L836,424 Z" style="stroke-width:1"/>
<path class="ln" d="M820,62 L826,76 L856,424 L846,430" style="stroke-width:1"/>
<line class="ar" x1="446" y1="316" x2="294" y2="267.1"/><polygon class="ah" points="272,260 307.1,258.7 299.7,281.5"/>
<line class="ar" x1="832" y1="265" x2="674.8" y2="288.6"/><polygon class="ah" points="652,292 682.9,275.2 686.4,299"/>
<text class="lb" x="77" y="294.2">F3</text>
<text class="lb" x="495" y="621.2">F2</text>
<text class="lb" x="891" y="512.2">F1</text>
</g>
<g id="step16-C1">
<!-- wing upper C1 -->
<path class="wf" d="M636.5,465 C637,459 641,455.5 646,454 C655,450.5 665,449.5 672,449.5 C680,450 687,451.5 692.5,453 L706,455 L696,458.2 L702.5,458.7 L716,466 L718.5,468.5 L730,473.2 L740,477.5 L791.5,499.8 L805,500 L887.5,540 L942.5,572.5 L983.5,592.6 L974.4,593.5 L986.9,593.5 L983.1,596.3 L1008.5,615 L1005.8,615.6 L1007,618 L1011,618 L1011.5,617.3 L1025,625.6 L1028.8,626.5 L1046.3,637 C1050,638 1055,636.3 1060,636 C1063,638 1064,642 1063,646 C1061,652 1054,656 1045,658.2 C1038,660 1030,661 1022.5,661.5 C1015,661.5 1005,660 997.5,656.3 L955,637.5 L905,615 L902.5,613.8 L905,607.8 L897.5,605.6 L893.8,612.6 L890,610 L825,581.5 C826,573 835,564.5 860,556.5 L840,546.5 C820,553.5 808,560.5 801,571.5 L750,540 L738.8,532.5 L742.5,524.5 L733.8,522.5 L731.2,527 L657.5,485 C648,480 640,473 636.5,465 Z" style="stroke-width:1"/>
<!-- centre cutout arcs -->
<path class="ln" d="M801,571.5 C806,561 818,553.5 840,546.5" style="stroke-width:1.8"/>
<path class="ln" d="M804,573 C809,563 821,556 842,549" style="stroke-width:0.8"/>
<path class="ln" d="M825,581.5 C826,573 835,564.5 860,556.5" style="stroke-width:1.8"/>
<path class="ln" d="M820,553.5 L838,564 M825,551.5 L843,561.5 M816,556 L834,567" style="stroke-width:0.9"/>
<!-- mount ovals -->
<g class="wf" style="stroke-width:1">
<ellipse cx="816.9" cy="552.3" rx="4.4" ry="2.1"/>
<ellipse cx="831.9" cy="545.8" rx="4.4" ry="2.1"/>
<ellipse cx="855.6" cy="541" rx="4.4" ry="2.1"/>
<ellipse cx="881.6" cy="554.2" rx="4.4" ry="2.1"/>
<ellipse cx="858.1" cy="559.2" rx="4.4" ry="2.1"/>
<ellipse cx="843.1" cy="564.6" rx="4.4" ry="2.1"/>
</g>
<!-- arrows to ovals -->
<line class="ar" x1="818" y1="483" x2="816.9" y2="547.2"/><polygon class="ah" points="816.9,550 815.5,546 818.5,546"/>
<line class="ar" x1="833.8" y1="477" x2="832.4" y2="541.2"/><polygon class="ah" points="832.3,544 830.9,540 833.9,540"/>
<line class="ar" x1="859.8" y1="471" x2="855.9" y2="536.2"/><polygon class="ah" points="855.7,539 854.4,534.9 857.4,535.1"/>
<line class="ar" x1="846.5" y1="498" x2="843.3" y2="559.7"/><polygon class="ah" points="843.2,562.5 841.9,558.4 844.9,558.6"/>
<line class="ar" x1="862.3" y1="491" x2="858.7" y2="554.2"/><polygon class="ah" points="858.5,557 857.2,552.9 860.2,553.1"/>
<line class="ar" x1="888.5" y1="485.5" x2="881.7" y2="549.7"/><polygon class="ah" points="881.4,552.5 880.3,548.4 883.3,548.7"/>
<!-- small parts -->
<g fill="#333" stroke="#222" stroke-width="0.6">
<path d="M815.8,481.6 C815.8,478.6 819.6,477.8 820.2,480.6 L819,482 L817,482 Z"/>
<path d="M858,469.6 C858,466.6 861.8,465.8 862.4,468.6 L861.2,470 L859.2,470 Z"/>
<path d="M844.4,496.6 C844.4,493.6 848.2,492.8 848.8,495.6 L847.6,497 L845.6,497 Z"/>
<path d="M886.8,484.2 C886.8,481.2 890.6,480.4 891.2,483.2 L890,484.6 L888,484.6 Z"/>
</g>
<circle class="wf" cx="834.1" cy="474" r="2.2" style="stroke-width:0.9"/><path class="tn" d="M832,474 L836.2,474" style="stroke-width:0.6"/>
<circle class="wf" cx="862.5" cy="488.6" r="2.2" style="stroke-width:0.9"/><path class="tn" d="M860.4,488.6 L864.6,488.6" style="stroke-width:0.6"/>
<circle cx="805" cy="476.3" r="7.6" fill="#b4b4b4"/><text class="gl" x="805" y="479.5" style="font-size:9px">5</text>
<circle cx="846.9" cy="482.9" r="7.6" fill="#b4b4b4"/><text class="gl" x="846.9" y="486.1" style="font-size:9px">5</text>
<circle cx="902.5" cy="480" r="7.6" fill="#b4b4b4"/><text class="gl" x="902.5" y="483.2" style="font-size:9px">5</text>
<circle cx="855.2" cy="457.6" r="7.6" fill="#b4b4b4"/><text class="gl" x="855.2" y="460.8" style="font-size:9px">5</text>
<text class="lb" x="940.5" y="565.7">C1</text>
<text class="lb" x="823.8" y="467.6">H28</text>
<text class="lb" x="864.8" y="484.2">H28</text>
</g>
<g id="step16-top" class="s4" transform="translate(620,360) scale(0.25)">
<!-- D5 -->
<path class="wf" d="M768,25 L828,20 L1200,192 L1210,200 L1192,212 L1164,212 L962,118 L942,126 L856,80 L854,70 L776,36 Z" style="stroke-width:1"/>
<path class="ln" d="M772,28 L856,63 M962,110 L1166,204 L1208,199" style="stroke-width:0.9"/>
<path class="tn" d="M856,70 L946,116 L962,110"/><path class="ln" d="M856,80 L942,126" style="stroke-width:1.7"/>
<!-- D4 -->
<path class="wf" d="M768,218 L786,212 L1188,388 L1186,398 L1162,406 L966,318 L944,324 L850,272 L852,262 L774,228 Z" style="stroke-width:1"/>
<path class="ln" d="M772,221 L852,255 M966,310 L1164,398 L1186,391" style="stroke-width:0.9"/>
<path class="tn" d="M852,262 L946,312 L966,308"/><path class="ln" d="M850,272 L944,324" style="stroke-width:1.9"/>
<line class="ar" x1="958" y1="170" x2="958" y2="257.4"/><polygon class="ah" points="958,270 951.6,252 964.4,252"/>
<line class="ar" x1="890" y1="300" x2="450" y2="444.1"/><polygon class="ah" points="438,448 453.1,436.3 457.1,448.5"/>
<!-- B21 -->
<path class="wf" d="M90,302 L118,294 L128,298 L126,312 L98,320 L90,316 Z" style="stroke-width:1"/>
<path class="tn" d="M90,302 L100,306 L128,298 M100,306 L98,320"/>
<line class="ar" x1="103" y1="320" x2="100.7" y2="365.4"/><polygon class="ah" points="100,378 94.5,359.7 107.3,360.4"/>
<line class="ar" x1="148" y1="510" x2="148" y2="753.4"/><polygon class="ah" points="148,766 141.6,748 154.4,748"/>
<text class="lb" x="971" y="51.8">D5</text>
<text class="lb" x="721" y="196.8">D4</text>
<text class="lb" x="71" y="269.8">B21</text>
</g>
<g id="step16-D6" class="s6" transform="translate(625,540) scale(0.16667)">
<!-- D6 lower wing half -->
<path class="wf" d="M56,122 C100,96 150,74 190,64 C240,54 320,54 380,66 L420,86 L412,92 L540,152 L550,166 L660,230 L690,216 L1000,356 L1020,350 L1600,612 C1610,616 1608,622 1598,624 L1130,760 L1080,782 L1060,776 L650,512 L130,204 C100,186 66,156 56,122 Z" style="stroke-width:1"/>
<path class="ln" d="M56,122 C66,160 100,190 130,210 L650,520 L1058,778" style="stroke-width:1.3"/>
<path class="ln" d="M146,152 C140,120 170,90 220,78 C280,72 350,90 410,114 L660,240 L1000,382 L1590,624" style="stroke-width:0.9"/>
<path class="ln" d="M146,152 C156,186 200,220 260,254 L660,500 L1070,760 L1130,746 L1596,616" style="stroke-width:0.9"/>
<path class="tn" d="M660,506 L1064,768 M1130,746 L1130,760"/>
<path class="ln" d="M640,500 L652,516 L690,520 L676,504 Z" style="stroke-width:0.8"/>
<!-- leaders -->
<path class="ar" d="M672,408 L442,518 M402,538 L348,560"/>
<line class="ar" x1="696" y1="420" x2="683.5" y2="487.4"/><polygon class="ah" points="680,506 675.5,477.7 694.4,481.2"/>
<path class="ln" d="M720,420 L812,724" style="stroke-width:1.2"/>
<!-- H16 -->
<path class="wf" d="M672,366 L690,354 L742,376 L744,414 L722,420 L672,398 Z" style="stroke-width:1.4"/>
<path class="ln" d="M690,354 L690,390 L672,398 M690,390 L722,404 L722,420 M722,404 L744,396" style="stroke-width:1.1"/>
<ellipse cx="710" cy="388" rx="12" ry="9" fill="#444"/>
<!-- B18 ring -->
<ellipse class="wf" cx="424" cy="528" rx="15" ry="20" transform="rotate(-15 424 528)" style="stroke-width:1"/>
<!-- B4 -->
<path class="wf" d="M282,548 C284,530 296,518 308,518 L340,532 C336,546 334,560 336,572 L342,584 C338,596 326,598 318,590 L284,572 C280,566 280,556 282,548 Z" style="stroke-width:1"/>
<path class="tn" d="M308,518 C300,534 300,560 312,580 L336,592"/>
<circle cx="815" cy="775" r="51.6" fill="#0a0a0a"/><text class="bl" x="815" y="805.6" style="font-size:85.2px">I</text>
<line class="ar" x1="190" y1="0" x2="190" y2="47.1"/><polygon class="ah" points="190,66 180.4,39 199.6,39"/>
<text class="lb" x="814" y="253.2">D6</text>
<text class="lb" x="767" y="462.2">H16</text>
<text class="lb" x="431" y="621.2">B18</text>
<text class="lb" x="221" y="651.2">B4</text>
</g>
<g id="step16-D1" class="s4" transform="translate(880,540) scale(0.25)">
<!-- D1 lower wing half -->
<path class="wf" d="M-230,557 L-167,550 C-100,536 0,500 100,438 L380,604 L372,612 L392,616 L388,606 L500,700 L520,706 L590,740 L640,770 C660,776 680,786 688,804 C692,822 680,838 660,846 C620,862 560,864 500,850 L300,772 L0,648 Z" style="stroke-width:1"/>
<path class="ln" d="M76,452 L498,708 L520,706 M590,740 L600,756 C620,790 640,820 650,850" style="stroke-width:0.9"/>
<path class="ln" d="M-230,557 L0,648 L300,772 L500,850" style="stroke-width:1.8"/>
<path class="ln" d="M-226,551 L4,637 L300,760 L520,845 C580,862 640,856 676,836" style="stroke-width:0.9"/>
<path class="tn" d="M-222,563 L0,658 L300,784 L480,856"/>
<path class="ln" d="M60,670 L72,686 L110,690 L96,674 Z" style="stroke-width:0.8"/>
<!-- H15 -->
<path class="wf" d="M88,524 L100,514 L134,528 L136,556 L120,562 L88,546 Z" style="stroke-width:1.4"/>
<path class="ln" d="M100,514 L100,540 L88,546 M100,540 L120,550 L120,562 M120,550 L136,544" style="stroke-width:1.1"/>
<ellipse cx="113" cy="537" rx="8" ry="6" fill="#444"/>
<path class="ar" d="M92,550 L-130,690 M-168,712 L-244,766"/>
<line class="ar" x1="102" y1="560" x2="89.6" y2="657.5"/><polygon class="ah" points="88,670 83.9,651.3 96.6,653"/>
<path class="ln" d="M114,560 L136,732" style="stroke-width:1.2"/>
<circle cx="138" cy="765" r="34.4" fill="#0a0a0a"/><text class="bl" x="138" y="785.4" style="font-size:56.8px">I</text>
<!-- B30 ring, B5 -->
<ellipse class="wf" cx="-158" cy="712" rx="10" ry="14" transform="rotate(-15 -158 712)" style="stroke-width:1"/>
<path class="wf" d="M-304,760 C-302,748 -294,740 -286,740 L-264,750 C-268,760 -268,770 -266,778 L-262,786 C-266,794 -274,796 -280,790 L-302,778 C-306,772 -306,766 -304,760 Z" style="stroke-width:1"/>
<path class="tn" d="M-286,740 C-292,752 -292,770 -284,784 L-266,792"/>
<!-- H1 rod -->
<path class="ln" d="M12,896 L122,856" style="stroke-width:2.2;stroke:#333"/>
<path class="ar" d="M126,852 L300,768"/>
<!-- B22 -->
<path d="M642,342 L666,334 L672,338 L672,346 L648,354 L642,350 Z" fill="#555" stroke="#222" stroke-width="0.8"/>
<line class="ar" x1="658" y1="356" x2="631.3" y2="455.8"/><polygon class="ah" points="628,468 626.5,449 638.8,452.3"/>
<path d="M616,468 L640,462 L636,470 L620,474 Z" fill="#333"/>
<line class="ar" x1="625" y1="490" x2="625" y2="813.4"/><polygon class="ah" points="625,826 618.6,808 631.4,808"/>
<!-- D2 -->
<path class="wf" d="M720,-40 L775,-42 L1060,118 L1058,130 L1040,140 L1016,136 L945,98 L930,104 L846,62 L850,50 L728,-28 Z" style="stroke-width:1"/>
<path class="ln" d="M724,-35 L850,43 M946,90 L1018,128 L1042,132 L1058,122" style="stroke-width:0.9"/>
<path class="tn" d="M850,50 L934,92 L946,88"/><path class="ln" d="M846,62 L930,104" style="stroke-width:1.7"/>
<!-- D3 -->
<path class="wf" d="M720,100 L750,94 L1030,262 L1028,272 L1008,278 L936,236 L912,240 L844,200 L848,190 L726,110 Z" style="stroke-width:1"/>
<path class="ln" d="M724,104 L848,183 M936,228 L1010,270 L1028,264" style="stroke-width:0.9"/>
<path class="tn" d="M848,190 L916,228 L936,226"/><path class="ln" d="M844,200 L912,240" style="stroke-width:1.7"/>
<path class="ar" d="M900,100 L900,192"/>
<line class="ar" x1="870" y1="218" x2="567" y2="316.1"/><polygon class="ah" points="555,320 570.2,308.4 574.1,320.5"/>
<text class="lb" x="314" y="527.8">D1</text>
<text class="lb" x="131" y="597.8">H15</text>
<text class="lb" x="-170" y="771.8">B30</text>
<text class="lb" x="-326" y="818.8">B5</text>
<text class="lb" x="82" y="916.8">H1</text>
<text class="lb" x="692" y="349.8">B22</text>
<text class="lb" x="688" y="160.8">D3</text>
<text class="lb" x="814" y="-39.2">D2</text>
</g>
</svg>
</body>
</html>
